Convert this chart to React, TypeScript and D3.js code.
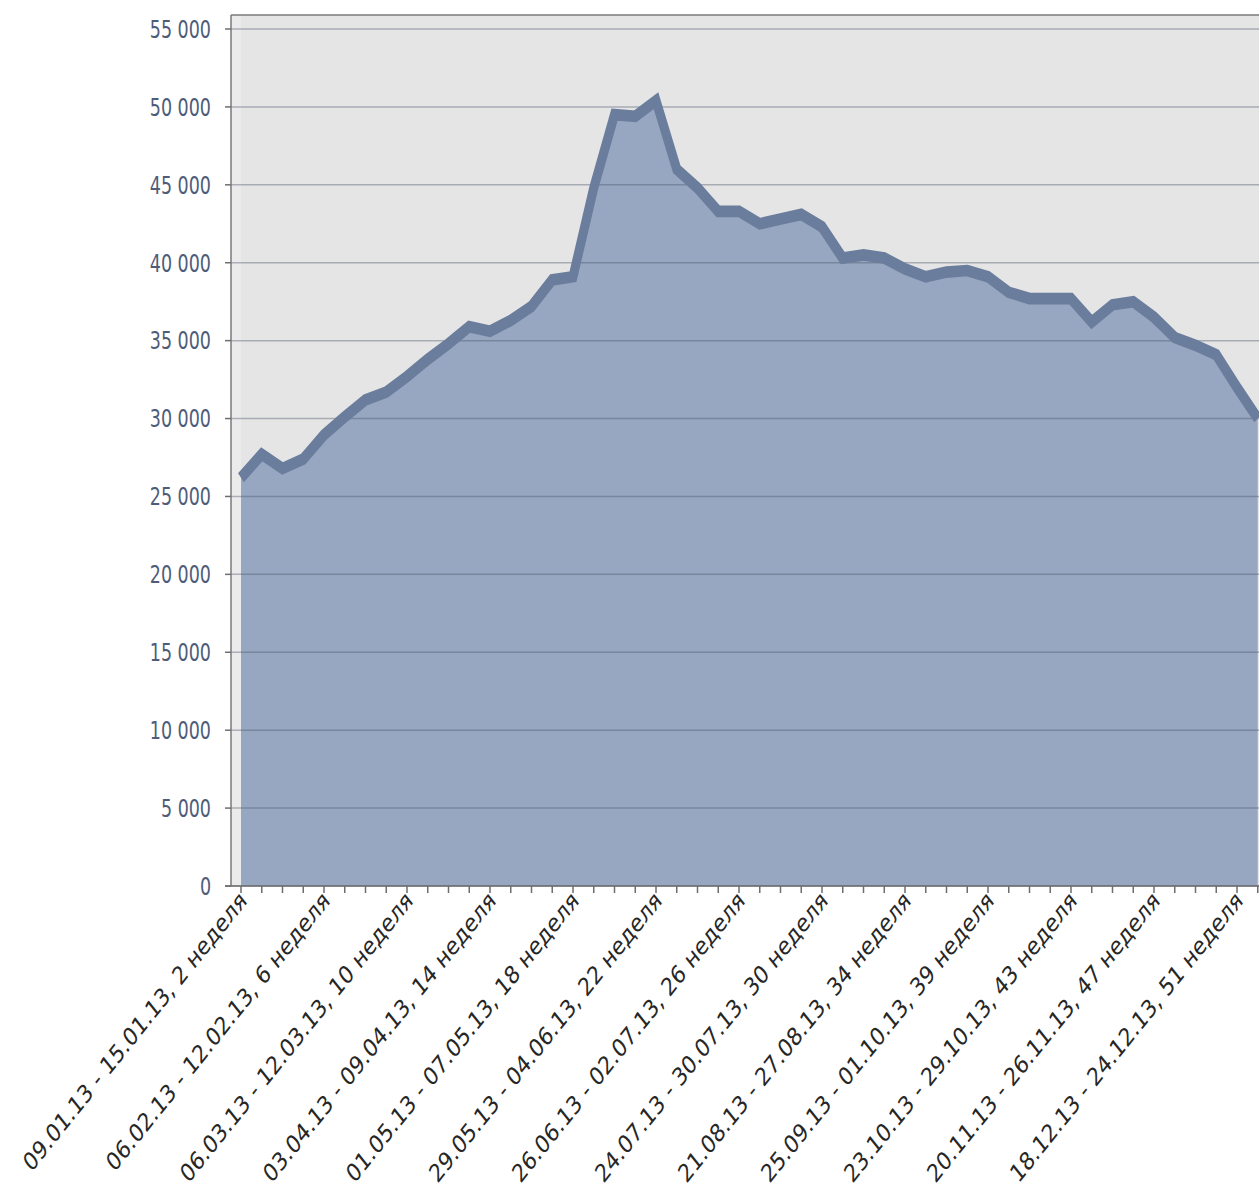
import * as d3 from 'd3'

// weekly values, 2013
const VALUES = [
  26200, 27700, 26800, 27400, 28950, 30100, 31200, 31700, 32700, 33800,
  34800, 35900, 35600, 36300, 37200, 38900, 39100, 44800, 49500, 49400,
  50400, 46000, 44800, 43300, 43300, 42500, 42800, 43100, 42300, 40300,
  40500, 40300, 39600, 39100, 39400, 39500, 39100, 38100, 37700, 37700,
  37700, 36200, 37300, 37500, 36500, 35200, 34700, 34100, 32000, 30000,
]

// every 4th week gets a label
const WEEK_LABELS = [
  '09.01.13 - 15.01.13, 2 неделя',
  '06.02.13 - 12.02.13, 6 неделя',
  '06.03.13 - 12.03.13, 10 неделя',
  '03.04.13 - 09.04.13, 14 неделя',
  '01.05.13 - 07.05.13, 18 неделя',
  '29.05.13 - 04.06.13, 22 неделя',
  '26.06.13 - 02.07.13, 26 неделя',
  '24.07.13 - 30.07.13, 30 неделя',
  '21.08.13 - 27.08.13, 34 неделя',
  '25.09.13 - 01.10.13, 39 неделя',
  '23.10.13 - 29.10.13, 43 неделя',
  '20.11.13 - 26.11.13, 47 неделя',
  '18.12.13 - 24.12.13, 51 неделя',
]
const LABEL_STEP = 4

const Y_MAX = 55000
const Y_STEP = 5000

const W = 1259
const H = 1199
const PLOT = { left: 231, top: 15, bottom: 886, right: 1259 }
const STRETCH = 1.3 // the picture is stretched vertically
const LABEL_STRETCH = 1.25
const FONT = "'DejaVu Sans', sans-serif"

const fmt = d3.formatLocale({
  decimal: ',',
  thousands: ' ',
  grouping: [3],
  currency: ['', ''],
}).format(',d')

export default function App() {
  const x = d3
    .scaleLinear()
    .domain([0, VALUES.length - 1])
    .range([241, 241 + 20.75 * (VALUES.length - 1)])
  const y = d3.scaleLinear().domain([0, Y_MAX]).range([PLOT.bottom, 29])
  const yTicks = d3.range(0, Y_MAX + 1, Y_STEP)

  const area = d3
    .area<number>()
    .x((_, i) => x(i))
    .y0(PLOT.bottom)
    .y1((d) => y(d))

  // line drawn in un-stretched coords, then scaled so the band gets thicker vertically
  const line = d3
    .line<number>()
    .x((_, i) => x(i))
    .y((d) => y(d) / STRETCH)

  return (
    <div style={{ position: 'absolute', left: 0, top: 0 }}>
      <svg width={W} height={H} style={{ display: 'block', background: '#fff' }}>
        {/* plot background */}
        <rect
          x={PLOT.left}
          y={PLOT.top}
          width={PLOT.right - PLOT.left}
          height={PLOT.bottom - PLOT.top}
          fill="#e5e5e5"
        />
        <rect
          x={PLOT.left + 1}
          y={PLOT.top + 1}
          width={9}
          height={PLOT.bottom - PLOT.top - 1}
          fill="#ebebeb"
        />

        {/* area */}
        <path d={area(VALUES) || ''} fill="#97a7c1" />

        {/* gridlines */}
        {yTicks.map((t) => (
          <line
            key={t}
            x1={PLOT.left}
            x2={PLOT.right}
            y1={y(t)}
            y2={y(t)}
            stroke="#4a5568"
            strokeOpacity={0.4}
            strokeWidth={1.5}
          />
        ))}

        {/* thick line band */}
        <g transform={`scale(1,${STRETCH})`}>
          <path
            d={line(VALUES) || ''}
            fill="none"
            stroke="#6a7d9c"
            strokeWidth={9}
            strokeLinejoin="miter"
          />
        </g>

        {/* frame */}
        <line x1={PLOT.left} x2={PLOT.left} y1={PLOT.top} y2={PLOT.bottom} stroke="#7a7a7a" strokeWidth={1.5} />
        <line x1={PLOT.left} x2={PLOT.right} y1={PLOT.top} y2={PLOT.top} stroke="#7a7a7a" strokeWidth={1.5} />
        <line x1={225} x2={PLOT.right} y1={PLOT.bottom} y2={PLOT.bottom} stroke="#6e6e6e" strokeWidth={1.5} />

        {/* y axis */}
        {yTicks.map((t) => (
          <g key={t}>
            <line x1={225} x2={PLOT.left} y1={y(t)} y2={y(t)} stroke="#6e6e6e" strokeWidth={1.5} />
            <text
              transform={`translate(211,${y(t)}) scale(1,${STRETCH + 0.1})`}
              textAnchor="end"
              dy="0.36em"
              fontFamily={FONT}
              fontSize={17.5}
              fill="#4e5c7a"
            >
              {fmt(t)}
            </text>
          </g>
        ))}

        {/* x ticks */}
        {VALUES.map((_, i) => (
          <line key={i} x1={x(i)} x2={x(i)} y1={PLOT.bottom} y2={PLOT.bottom + 7} stroke="#6e6e6e" strokeWidth={1.5} />
        ))}

        {/* x labels */}
        {WEEK_LABELS.map((lab, k) => (
          <g key={lab} transform={`translate(${x(k * LABEL_STEP) + 2},${PLOT.bottom + 10}) scale(1,${LABEL_STRETCH}) rotate(-45)`}>
            <text textAnchor="end" dy="0.35em" fontFamily={FONT} fontSize={20} fill="#262626">
              {lab}
            </text>
          </g>
        ))}
      </svg>
    </div>
  )
}
